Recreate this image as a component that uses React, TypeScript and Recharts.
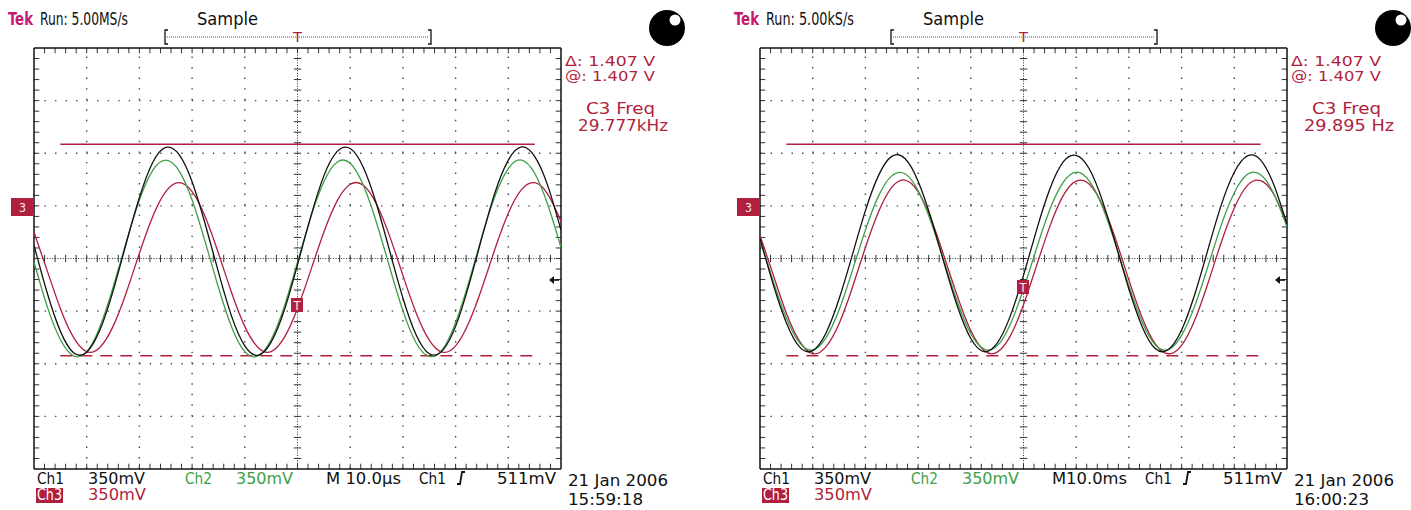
import React from "react";
import { LineChart, Line, XAxis, YAxis, ReferenceLine } from "recharts";

// horizontal position in divisions (10 divisions across the screen)
const X_DIV = [0, 0.25, 0.5, 0.75, 1, 1.25, 1.5, 1.75, 2, 2.25, 2.5, 2.75, 3, 3.25, 3.5, 3.75, 4, 4.25, 4.5, 4.75, 5, 5.25, 5.5, 5.75, 6, 6.25, 6.5, 6.75, 7, 7.25, 7.5, 7.75, 8, 8.25, 8.5, 8.75, 9, 9.25, 9.5, 9.75, 10];

// Left screen (M 10.0µs) – vertical position in divisions (350 mV/div)
const L_CH1 = [0.25, -0.65, -1.38, -1.79, -1.78, -1.36, -0.62, 0.29, 1.16, 1.82, 2.11, 1.98, 1.46, 0.65, -0.26, -1.1, -1.66, -1.84, -1.59, -0.98, -0.12, 0.79, 1.57, 2.03, 2.09, 1.73, 1.03, 0.14, -0.75, -1.45, -1.81, -1.75, -1.29, -0.51, 0.4, 1.26, 1.87, 2.12, 1.94, 1.38, 0.54];
const L_CH2 = [-0.07, -0.91, -1.54, -1.85, -1.77, -1.3, -0.55, 0.31, 1.11, 1.67, 1.87, 1.67, 1.11, 0.31, -0.55, -1.3, -1.77, -1.85, -1.54, -0.91, -0.07, 0.78, 1.46, 1.83, 1.81, 1.39, 0.68, -0.17, -0.99, -1.6, -1.86, -1.73, -1.22, -0.45, 0.42, 1.19, 1.71, 1.87, 1.62, 1.02, 0.21];
const L_CH3 = [0.5, -0.23, -0.95, -1.5, -1.77, -1.69, -1.29, -0.65, 0.1, 0.79, 1.27, 1.44, 1.27, 0.79, 0.1, -0.65, -1.29, -1.69, -1.77, -1.5, -0.95, -0.23, 0.5, 1.09, 1.41, 1.39, 1.03, 0.42, -0.32, -1.03, -1.55, -1.78, -1.66, -1.22, -0.56, 0.19, 0.86, 1.31, 1.44, 1.22, 0.71];

// Right screen (M10.0ms)
const R_CH1 = [0.38, -0.49, -1.22, -1.68, -1.75, -1.42, -0.77, 0.06, 0.91, 1.58, 1.94, 1.9, 1.47, 0.75, -0.11, -0.92, -1.52, -1.77, -1.61, -1.09, -0.32, 0.55, 1.32, 1.83, 1.96, 1.7, 1.09, 0.27, -0.58, -1.29, -1.71, -1.73, -1.36, -0.68, 0.17, 1.01, 1.64, 1.95, 1.87, 1.4, 0.65];
const R_CH2 = [0.36, -0.43, -1.13, -1.6, -1.74, -1.51, -0.98, -0.24, 0.54, 1.19, 1.57, 1.61, 1.29, 0.68, -0.08, -0.84, -1.43, -1.72, -1.66, -1.25, -0.58, 0.2, 0.93, 1.44, 1.64, 1.47, 0.98, 0.26, -0.52, -1.2, -1.64, -1.73, -1.46, -0.9, -0.15, 0.63, 1.25, 1.6, 1.59, 1.23, 0.6];
const R_CH3 = [0.44, -0.31, -1.04, -1.57, -1.81, -1.68, -1.24, -0.56, 0.21, 0.89, 1.35, 1.49, 1.27, 0.74, 0.02, -0.73, -1.37, -1.75, -1.78, -1.47, -0.88, -0.13, 0.61, 1.19, 1.47, 1.41, 1.01, 0.36, -0.41, -1.12, -1.62, -1.81, -1.65, -1.17, -0.47, 0.3, 0.96, 1.39, 1.48, 1.22, 0.67];

// cursor levels (divisions) and their horizontal extent
const CURSOR_TOP = [2.17, 2.17];
const CURSOR_BOTTOM = [-1.85, -1.85];
const CURSOR_SPAN = [0.5, 9.5];

// text labels
const RATES = ["5.00MS/s", "5.00kS/s"];
const FREQS = ["29.777kHz", "29.895 Hz"];
const TIMEBASES = ["M 10.0µs", "M10.0ms"];
const TIMES = ["15:59:18", "16:00:23"];
const DELTA = ["Δ: 1.407 V", "@: 1.407 V"];

const MAJOR_X = [1, 2, 3, 4, 6, 7, 8, 9];
const MAJOR_Y = [-3, -2, -1, 1, 2, 3];
const MINOR_X = [0.2, 0.4, 0.6, 0.8, 1, 1.2, 1.4, 1.6, 1.8, 2, 2.2, 2.4, 2.6, 2.8, 3, 3.2, 3.4, 3.6, 3.8, 4, 4.2, 4.4, 4.6, 4.8, 5, 5.2, 5.4, 5.6, 5.8, 6, 6.2, 6.4, 6.6, 6.8, 7, 7.2, 7.4, 7.6, 7.8, 8, 8.2, 8.4, 8.6, 8.8, 9, 9.2, 9.4, 9.6, 9.8];
const MINOR_Y = [-3.8, -3.6, -3.4, -3.2, -3, -2.8, -2.6, -2.4, -2.2, -2, -1.8, -1.6, -1.4, -1.2, -1, -0.8, -0.6, -0.4, -0.2, 0, 0.2, 0.4, 0.6, 0.8, 1, 1.2, 1.4, 1.6, 1.8, 2, 2.2, 2.4, 2.6, 2.8, 3, 3.2, 3.4, 3.6, 3.8];

const RED = "#b01f3d";
const GREEN = "#3f9e45";
const MAGENTA = "#c4196e";
const INK = "#111111";
const FONT = "'Liberation Sans Narrow', 'DejaVu Sans Condensed', Roboto, 'DejaVu Sans', sans-serif";

const PANEL_X = [0, 726];
const CHART_W = 600;
const CHART_H = 510;
const MARGIN = { top: 48, right: 39, bottom: 41, left: 34 };

function gridElements() {
  const els: React.ReactNode[] = [];
  MAJOR_X.forEach((x) =>
    els.push(<ReferenceLine key={"gx" + x} x={x} stroke="#444" strokeWidth={1.4} strokeDasharray="1.4 9.14" />)
  );
  MAJOR_Y.forEach((y) =>
    els.push(<ReferenceLine key={"gy" + y} y={y} stroke="#444" strokeWidth={1.4} strokeDasharray="1.4 9.12" />)
  );
  els.push(<ReferenceLine key="cx" x={5} stroke="#333" strokeWidth={1} strokeDasharray="1 1.6" />);
  els.push(<ReferenceLine key="cy" y={0} stroke="#333" strokeWidth={1} strokeDasharray="1 1.6" />);
  MINOR_X.forEach((x) => {
    els.push(<ReferenceLine key={"tb" + x} segment={[{ x, y: -4 }, { x, y: -3.9 }]} stroke="#333" />);
    els.push(<ReferenceLine key={"tt" + x} segment={[{ x, y: 4 }, { x, y: 3.9 }]} stroke="#333" />);
    els.push(<ReferenceLine key={"tc" + x} segment={[{ x, y: -0.07 }, { x, y: 0.07 }]} stroke="#333" />);
  });
  MINOR_Y.forEach((y) => {
    els.push(<ReferenceLine key={"tl" + y} segment={[{ x: 0, y }, { x: 0.1, y }]} stroke="#333" />);
    els.push(<ReferenceLine key={"tr" + y} segment={[{ x: 10, y }, { x: 9.9, y }]} stroke="#333" />);
    els.push(<ReferenceLine key={"tv" + y} segment={[{ x: 4.93, y }, { x: 5.07, y }]} stroke="#333" />);
  });
  els.push(<ReferenceLine key="b1" x={0} stroke={INK} strokeWidth={1.5} />);
  els.push(<ReferenceLine key="b2" x={10} stroke={INK} strokeWidth={1.5} />);
  els.push(<ReferenceLine key="b3" y={4} stroke={INK} strokeWidth={1.5} />);
  els.push(<ReferenceLine key="b4" y={-4} stroke={INK} strokeWidth={1.5} />);
  return els;
}

function Screen({ idx, ch1, ch2, ch3 }: { idx: number; ch1: number[]; ch2: number[]; ch3: number[] }) {
  const data = X_DIV.map((x, i) => ({ x, ch1: ch1[i], ch2: ch2[i], ch3: ch3[i] }));
  return (
    <div style={{ position: "absolute", left: PANEL_X[idx], top: 0, width: CHART_W, height: CHART_H }}>
      <LineChart width={CHART_W} height={CHART_H} data={data} margin={MARGIN}>
        <XAxis dataKey="x" type="number" domain={[0, 10]} hide allowDataOverflow />
        <YAxis type="number" domain={[-4, 4]} hide allowDataOverflow />
        {gridElements()}
        <ReferenceLine
          segment={[{ x: CURSOR_SPAN[0], y: CURSOR_TOP[idx] }, { x: CURSOR_SPAN[1], y: CURSOR_TOP[idx] }]}
          stroke={RED}
          strokeWidth={1.5}
        />
        <ReferenceLine
          segment={[{ x: CURSOR_SPAN[0], y: CURSOR_BOTTOM[idx] }, { x: CURSOR_SPAN[1], y: CURSOR_BOTTOM[idx] }]}
          stroke={RED}
          strokeWidth={1.5}
          strokeDasharray="12 8"
        />
        <Line dataKey="ch3" type="natural" stroke={RED} strokeWidth={1.3} dot={false} isAnimationActive={false} />
        <Line dataKey="ch2" type="natural" stroke={GREEN} strokeWidth={1.3} dot={false} isAnimationActive={false} />
        <Line dataKey="ch1" type="natural" stroke={INK} strokeWidth={1.3} dot={false} isAnimationActive={false} />
      </LineChart>
    </div>
  );
}

function T({ x, y, w, fill = INK, size = 16, children, anchor = "start", weight = "normal" }: any) {
  return (
    <text x={x} y={y} fill={fill} fontSize={size} fontFamily={FONT} fontWeight={weight} textLength={w} lengthAdjust="spacingAndGlyphs" textAnchor={anchor}>
      {children}
    </text>
  );
}

function Overlay({ idx }: { idx: number }) {
  const d = PANEL_X[idx];
  const tY = idx === 0 ? 305 : 287;
  return (
    <g transform={`translate(${d},0)`}>
      <T x={8} y={25} w={25} fill={MAGENTA} size={17} weight="bold">Tek</T>
      <T x={40} y={25} w={88} size={17}>{"Run: " + RATES[idx]}</T>
      <T x={197} y={25} w={61} size={17}>Sample</T>
      {/* trigger position bracket */}
      <path d="M168 30 L165 30 L165 44 L168 44" stroke={INK} fill="none" strokeWidth={1.3} />
      <path d="M428 30 L431 30 L431 44 L428 44" stroke={INK} fill="none" strokeWidth={1.3} />
      <line x1={167} y1={37} x2={429} y2={37} stroke={RED} strokeWidth={1} strokeDasharray="1 1" />
      <T x={297.5} y={42} w={9} fill={RED} size={14} anchor="middle">T</T>
      {/* status circle */}
      <circle cx={667} cy={28} r={18} fill="#000" />
      <circle cx={675} cy={20} r={5.5} fill="#fff" />
      {/* cursor readout */}
      <T x={565} y={66} w={90} fill={RED} size={14}>{DELTA[0]}</T>
      <T x={565} y={81} w={90} fill={RED} size={14}>{DELTA[1]}</T>
      <T x={586} y={114} w={69} fill={RED} size={16}>C3 Freq</T>
      <T x={578} y={131} w={90} fill={RED} size={16}>{FREQS[idx]}</T>
      {/* ground marker */}
      <rect x={11} y={198} width={23} height={18} fill={RED} />
      <T x={19} y={212} w={7} fill="#f2f2f2" size={12}>3</T>
      {/* trigger point marker */}
      <rect x={291} y={tY - 7} width={12} height={14} fill={RED} />
      <T x={297} y={tY + 5} w={7} fill="#f2f2f2" size={12} anchor="middle">T</T>
      {/* trigger level arrow */}
      <path d={`M549 280 L554 276 L554 284 Z`} fill={INK} />
      <line x1={553} y1={280} x2={559} y2={280} stroke={INK} strokeWidth={1.6} />
      {/* bottom readout */}
      <T x={37} y={484} w={27} size={16}>Ch1</T>
      <T x={88} y={484} w={57} size={16}>350mV</T>
      <T x={185} y={484} w={27} size={16} fill={GREEN}>Ch2</T>
      <T x={236} y={484} w={57} size={16} fill={GREEN}>350mV</T>
      <T x={326} y={484} w={75} size={16}>{TIMEBASES[idx]}</T>
      <T x={419} y={484} w={27} size={16}>Ch1</T>
      <path d="M457 484 L460 484 L462 472 L465 472" stroke={INK} fill="none" strokeWidth={1.8} />
      <T x={497} y={484} w={59} size={16}>511mV</T>
      <rect x={36} y={488} width={27} height={15} fill={RED} />
      <T x={37} y={500} w={25} size={15} fill="#ffffff">Ch3</T>
      <T x={88} y={500} w={58} size={15} fill={RED}>350mV</T>
      <T x={568} y={486} w={100} size={16}>21 Jan 2006</T>
      <T x={568} y={505} w={75} size={16}>{TIMES[idx]}</T>
    </g>
  );
}

export default function App() {
  return (
    <div style={{ position: "absolute", left: 0, top: 0, width: 1411, height: 510, background: "#fff", overflow: "hidden" }}>
      <Screen idx={0} ch1={L_CH1} ch2={L_CH2} ch3={L_CH3} />
      <Screen idx={1} ch1={R_CH1} ch2={R_CH2} ch3={R_CH3} />
      <svg width={1411} height={510} style={{ position: "absolute", left: 0, top: 0, pointerEvents: "none" }}>
        <Overlay idx={0} />
        <Overlay idx={1} />
      </svg>
    </div>
  );
}
